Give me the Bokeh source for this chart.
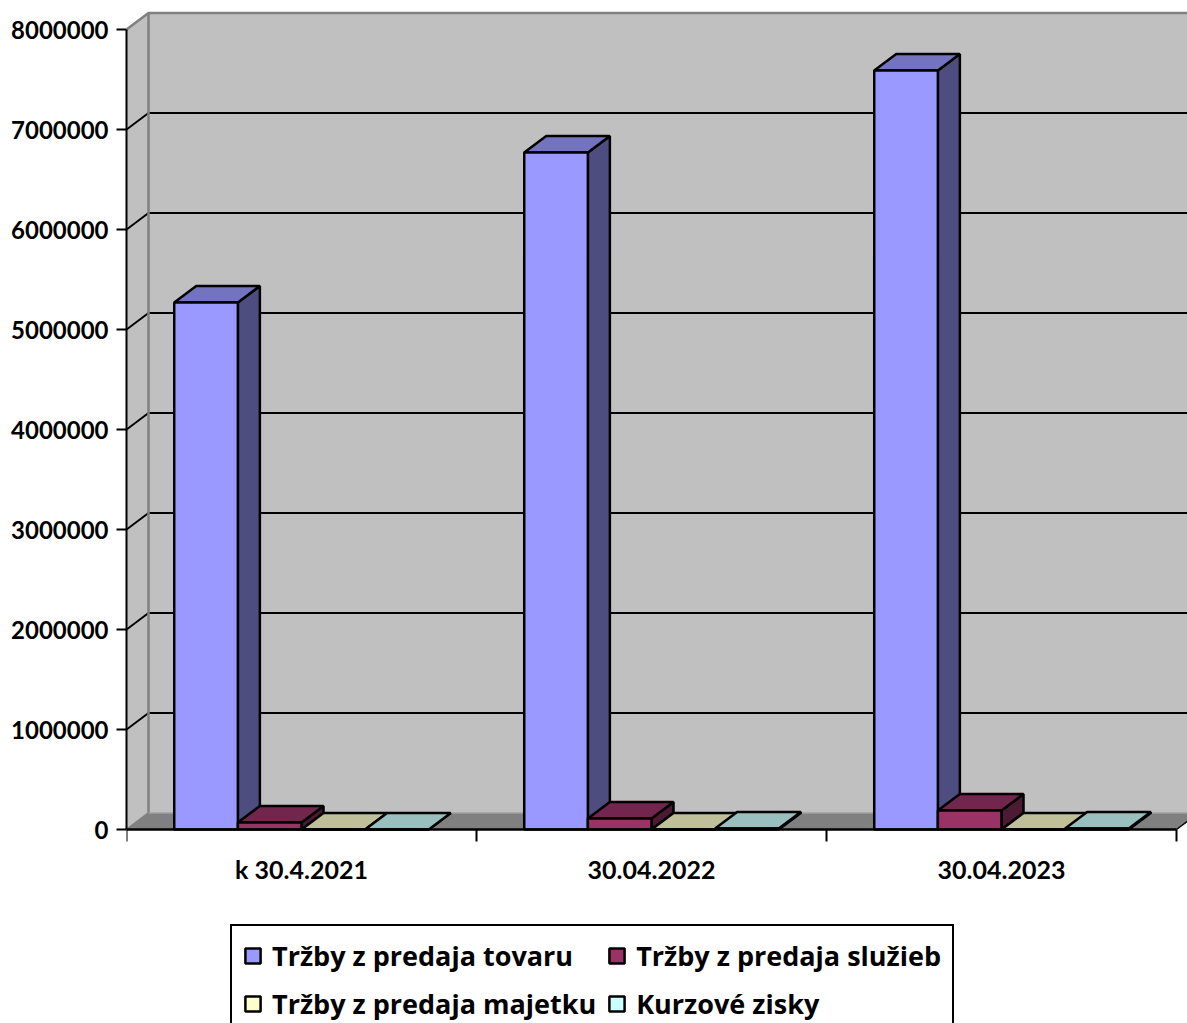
from bokeh.plotting import figure
from bokeh.embed import file_html
from bokeh.resources import INLINE
from bokeh.models import FixedTicker, Legend, LegendItem, BasicTickFormatter, Range1d

categories = ["k 30.4.2021", "30.04.2022", "30.04.2023"]
series_names = ["Tržby z predaja tovaru", "Tržby z predaja služieb", "Tržby z predaja majetku", "Kurzové zisky"]
tovar = [5270000, 6770000, 7590000]
sluzby = [70000, 110000, 190000]
majetok = [0, 0, 0]
kurz = [0, 10000, 10000]
series_values = [tovar, sluzby, majetok, kurz]
front_colors = ["#9999FF", "#993366", "#FFFFCC", "#CCFFFF"]
top_colors = ["#7373BF", "#73264D", "#BFBF99", "#99BFBF"]
side_colors = ["#4D4D80", "#4D1A33", "#808066", "#668080"]
y_ticks = [0, 1000000, 2000000, 3000000, 4000000, 5000000, 6000000, 7000000, 8000000]

FONT = "Lato"
LEGEND_FONT = "Open Sans"
# layout constants
PX_X = 350.0       # pixels per category
PX_Y = 100e-6      # pixels per unit of value
DX = 22 / PX_X     # 3-D depth, category units
DY = 16.5 / PX_Y   # 3-D depth, value units
GAP = 0.75 / 5.5   # gap either side of a cluster, category units
BAR = 1 / 5.5      # bar width, category units
WALL_GREY = "#C0C0C0"
EDGE_GREY = "#808080"

W, H = 1187, 1023
LEFT = 126
BASE = 829
p = figure(width=W, height=H, output_backend="svg", toolbar_location=None,
           x_range=Range1d(0, (W - LEFT) / PX_X),
           y_range=Range1d(-(H - BASE) / PX_Y, BASE / PX_Y),
           min_border_left=LEFT, min_border_right=0, min_border_top=0, min_border_bottom=0,
           outline_line_color=None, background_fill_color="white", border_fill_color="white")
p.grid.visible = False

n = len(categories)
top_y = y_ticks[-1]

# back wall, side wall, floor
p.patch([DX, n + 2 * DX, n + 2 * DX, DX], [DY, DY, top_y + DY, top_y + DY],
        fill_color=WALL_GREY, line_color=None)
p.patch([0, DX, DX, 0], [0, DY, top_y + DY, top_y], fill_color=WALL_GREY, line_color=None)
p.patch([0, n, n + DX, DX], [0, 0, DY, DY], fill_color=EDGE_GREY, line_color=None)

# gridlines
for v in y_ticks[1:-1]:
    p.line([0, DX, n + 2 * DX], [v, v + DY, v + DY], line_color="black", line_width=2)

# wall edges
p.line([DX, DX], [DY, top_y + DY], line_color=EDGE_GREY, line_width=2.5)
p.line([0, DX], [0, DY], line_color=EDGE_GREY, line_width=2)
p.line([DX, n + 2 * DX], [DY, DY], line_color="#A0A0A0", line_width=1.5)
p.line([0, DX, n + 2 * DX], [top_y, top_y + DY, top_y + DY], line_color=EDGE_GREY, line_width=2.5)
p.line([n, n + DX], [0, DY], line_color="black", line_width=1.5)

# bars
fronts = []
for s, vals in enumerate(series_values):
    lefts = [i + GAP + s * BAR for i in range(n)]
    rights = [l + BAR for l in lefts]
    tx = [[l, r, r + DX, l + DX] for l, r in zip(lefts, rights)]
    ty = [[v, v, v + DY, v + DY] for v in vals]
    sx = [[r, r + DX, r + DX, r] for r in rights]
    sy = [[0, DY, v + DY, v] for v in vals]
    p.patches(sx, sy, fill_color=side_colors[s], line_color="black", line_width=2.5)
    p.patches(tx, ty, fill_color=top_colors[s], line_color="black", line_width=2.5)
    fronts.append(p.quad(left=lefts, right=rights, bottom=0, top=vals,
                         fill_color=front_colors[s], line_color="black", line_width=2.5))

# axes
xa = p.xaxis[0]
xa.fixed_location = 0
xa.bounds = (0, n)
xa.ticker = FixedTicker(ticks=[i + 0.5 for i in range(n)], minor_ticks=list(range(n + 1)))
xa.major_label_overrides = {i + 0.5: c for i, c in enumerate(categories)}
xa.major_tick_line_color = None
xa.major_tick_in = 0
xa.major_tick_out = 0
xa.minor_tick_in = 0
xa.minor_tick_out = 12
xa.minor_tick_line_color = "black"
xa.minor_tick_line_width = 2
xa.axis_line_color = "black"
xa.axis_line_width = 2.5
xa.major_label_standoff = 12
xa.major_label_text_font = FONT
xa.major_label_text_font_style = "bold"
xa.major_label_text_font_size = "25px"
xa.major_label_text_color = "black"

ya = p.yaxis[0]
ya.bounds = (0, top_y)
ya.ticker = FixedTicker(ticks=y_ticks)
ya.minor_tick_line_color = None
ya.formatter = BasicTickFormatter(use_scientific=False)
ya.major_tick_in = 0
ya.major_tick_out = 10
ya.major_tick_line_color = "black"
ya.major_tick_line_width = 2
ya.axis_line_color = "black"
ya.axis_line_width = 2
ya.major_label_standoff = 8
ya.major_label_text_font = FONT
ya.major_label_text_font_style = "bold"
ya.major_label_text_font_size = "24px"
ya.major_label_text_color = "black"

# legend
items = [LegendItem(label=name, renderers=[r]) for name, r in zip(series_names, fronts)]
legend = Legend(items=items, ncols=2, location=(104, -12), orientation="horizontal",
                label_text_font=LEGEND_FONT, label_text_font_style="bold", label_text_font_size="27px",
                label_text_color="black", label_height=30, label_standoff=10,
                glyph_width=19, glyph_height=19, spacing=11, padding=11, margin=0,
                border_line_color="black", border_line_alpha=1.0, border_line_width=2.5,
                background_fill_alpha=1.0)
p.add_layout(legend, "center")

open("out.html", "w").write(file_html(p, INLINE))
